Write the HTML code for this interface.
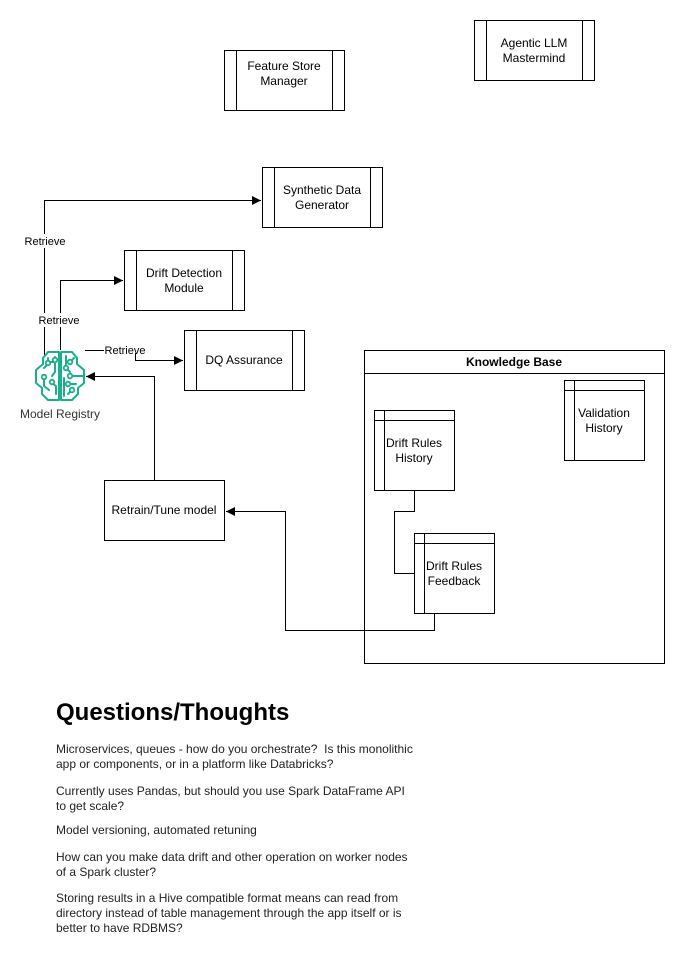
<!DOCTYPE html>
<html><head><meta charset="utf-8"><style>
html,body{margin:0;padding:0;background:#fff;}
svg{display:block;font-family:"Liberation Sans",Arial,sans-serif;}
</style></head><body>
<svg width="686" height="954" viewBox="0 0 686 954" xmlns="http://www.w3.org/2000/svg">
<defs><marker id="a" markerWidth="10" markerHeight="10" refX="9" refY="4.5" orient="auto" markerUnits="userSpaceOnUse"><path d="M0,0 L9,4.5 L0,9 Z" fill="#000"/></marker></defs>
<g fill="#fff" stroke="#000" stroke-width="1">
<rect x="474.5" y="20.5" width="120" height="60"/><path d="M486.5 20.5V80.5M582.5 20.5V80.5"/>
<rect x="224.5" y="50.5" width="120" height="60"/><path d="M236.5 50.5V110.5M332.5 50.5V110.5"/>
<rect x="262.5" y="167.5" width="120" height="60"/><path d="M274.5 167.5V227.5M370.5 167.5V227.5"/>
<rect x="124.5" y="250.5" width="120" height="60"/><path d="M136.5 250.5V310.5M232.5 250.5V310.5"/>
<rect x="184.5" y="330.5" width="120" height="60"/><path d="M196.5 330.5V390.5M292.5 330.5V390.5"/>
<rect x="104.5" y="480.5" width="120" height="60"/>
<rect x="364.5" y="350.5" width="300" height="313"/><path d="M364.5 373.5H664.5"/>
<rect x="564.5" y="380.5" width="80" height="80"/><path d="M574.5 380.5V460.5M564.5 390.5H644.5"/>
<rect x="374.5" y="410.5" width="80" height="80"/><path d="M384.5 410.5V490.5M374.5 420.5H454.5"/>
<rect x="414.5" y="533.5" width="80" height="80"/><path d="M424.5 533.5V613.5M414.5 543.5H494.5"/>
</g>
<g fill="none" stroke="#000" stroke-width="1">
<path d="M44.5 355V200.5H261" marker-end="url(#a)"/>
<path d="M60.5 350V280.5H123" marker-end="url(#a)"/>
<path d="M85 350.5H104"/><path d="M135.5 353V360.5H183" marker-end="url(#a)"/>
<path d="M154.5 480V376.5H86" marker-end="url(#a)"/>
<path d="M414.5 490V511.5H394.5V573.5H414"/>
<path d="M434.5 613V630.5H285.5V511.5H226" marker-end="url(#a)"/>
</g>
<rect x="22" y="234" width="46" height="14" fill="#fff"/>
<rect x="38" y="313" width="44" height="14" fill="#fff"/>
<g font-size="11" fill="#000" text-anchor="middle">
<text x="45" y="245">Retrieve</text>
<text x="59" y="324">Retrieve</text>
<text x="125" y="354">Retrieve</text>
</g>
<g fill="none" stroke="#1aaf8f" stroke-width="2" stroke-linejoin="round" stroke-linecap="round">
<path d="M59 352 L48 352 L43 358 L43 364 L36 370 L36 383 L42 388 L42 394 L48 400 L59 400 Z"/>
<path d="M61 352 L72 352 L77 358 L77 364 L84 370 L84 383 L78 388 L78 394 L72 400 L61 400 Z"/>
<path d="M48 358 L48 364 L44 368 M51 362 L55 362 M55 357 L55 372 L52 376 M44 378 L44 386 L49 390 M52 383 L56 386 L56 394"/>
<path d="M66 356 L66 364 M70 362 L74 358 M66 368 L70 372 M64 378 L64 396 M68 384 L76 384 M72 390 L68 394 M72 376 L84 376"/>
</g>
<g fill="#fff" stroke="#1aaf8f" stroke-width="1.8">
<circle cx="48" cy="363" r="2.3"/><circle cx="55" cy="360" r="2.3"/><circle cx="44" cy="377" r="2.3"/><circle cx="52" cy="382" r="2.3"/>
<circle cx="70" cy="362" r="2.3"/><circle cx="66" cy="368" r="2.3"/><circle cx="70" cy="376" r="2.3"/><circle cx="68" cy="384" r="2.3"/><circle cx="72" cy="390" r="2.3"/>
</g>
<g font-size="12" fill="#000" text-anchor="middle">
<text x="534" y="47">Agentic LLM</text><text x="534" y="62">Mastermind</text>
<text x="284" y="70">Feature Store</text><text x="284" y="85">Manager</text>
<text x="322" y="194">Synthetic Data</text><text x="322" y="209">Generator</text>
<text x="184" y="277">Drift Detection</text><text x="184" y="292">Module</text>
<text x="244" y="364">DQ Assurance</text>
<text x="164" y="514">Retrain/Tune model</text>
<text x="60" y="418" fill="#333">Model Registry</text>
<text x="514" y="366" font-weight="bold">Knowledge Base</text>
<text x="604" y="417">Validation</text><text x="604" y="432">History</text>
<text x="414" y="447">Drift Rules</text><text x="414" y="462">History</text>
<text x="454" y="570">Drift Rules</text><text x="454" y="585">Feedback</text>
</g>
<text x="56" y="720" font-size="24" font-weight="bold" fill="#000">Questions/Thoughts</text>
<g font-size="12" fill="#222">
<text x="56" y="753">Microservices, queues - how do you orchestrate?&#160; Is this monolithic</text>
<text x="56" y="768">app or components, or in a platform like Databricks?</text>
<text x="56" y="795">Currently uses Pandas, but should you use Spark DataFrame API</text>
<text x="56" y="810">to get scale?</text>
<text x="56" y="834">Model versioning, automated retuning</text>
<text x="56" y="861">How can you make data drift and other operation on worker nodes</text>
<text x="56" y="876">of a Spark cluster?</text>
<text x="56" y="902">Storing results in a Hive compatible format means can read from</text>
<text x="56" y="917">directory instead of table management through the app itself or is</text>
<text x="56" y="932">better to have RDBMS?</text>
</g>
</svg>
</body></html>
